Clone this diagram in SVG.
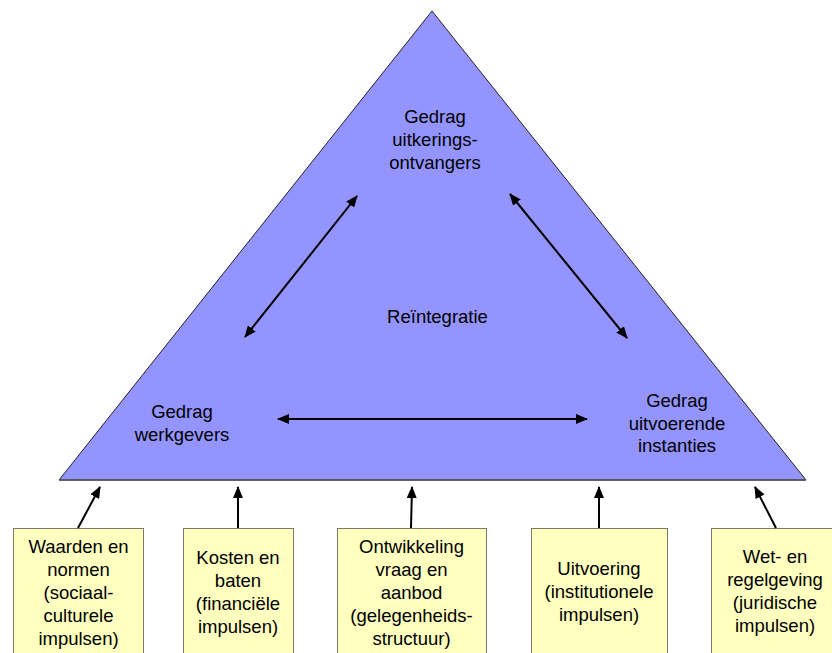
<svg xmlns="http://www.w3.org/2000/svg" width="832" height="653" viewBox="0 0 832 653">
  <style>
    .lbl { font-family: "Liberation Sans", Arial, sans-serif; font-size: 18.5px; fill: #000; text-anchor: middle; }
    .box { fill: #ffffc0; stroke: #7a7a6a; stroke-width: 1; }
    .link { stroke: #000; stroke-width: 2; fill: none; }
  </style>
  <defs>
    <marker id="head" viewBox="0 0 12 10" refX="11" refY="5" markerWidth="12" markerHeight="10" markerUnits="userSpaceOnUse" orient="auto-start-reverse">
      <path d="M0,0 L12,5 L0,10 Z" fill="#000"/>
    </marker>
  </defs>

  <rect width="832" height="653" fill="#fff"/>

  <!-- central triangle -->
  <g id="triangle">
    <polygon points="432,11 806,480 59,480" fill="#9494ff" stroke="#222" stroke-width="1"/>
    <line x1="59" y1="480" x2="806" y2="480" stroke="#555" stroke-width="1.5"/>
  </g>

  <g id="uitkeringsontvangers">
    <text class="lbl" x="435" y="123">Gedrag</text>
    <text class="lbl" x="435" y="146">uitkerings-</text>
    <text class="lbl" x="435" y="169">ontvangers</text>
  </g>
  <g id="reintegratie">
    <text class="lbl" x="437.5" y="323">Reïntegratie</text>
  </g>
  <g id="werkgevers">
    <text class="lbl" x="182" y="418">Gedrag</text>
    <text class="lbl" x="182" y="441">werkgevers</text>
  </g>
  <g id="instanties">
    <text class="lbl" x="677" y="407">Gedrag</text>
    <text class="lbl" x="677" y="430">uitvoerende</text>
    <text class="lbl" x="677" y="452">instanties</text>
  </g>

  <!-- impulse boxes -->
  <g id="waarden">
    <rect class="box" x="13.5" y="528.5" width="130" height="140"/>
    <text class="lbl" x="78.5" y="553">Waarden en</text>
    <text class="lbl" x="78.5" y="576">normen</text>
    <text class="lbl" x="78.5" y="599">(sociaal-</text>
    <text class="lbl" x="78.5" y="622">culturele</text>
    <text class="lbl" x="78.5" y="645">impulsen)</text>
  </g>
  <g id="kosten">
    <rect class="box" x="183.5" y="528.5" width="110" height="140"/>
    <text class="lbl" x="238" y="564">Kosten en</text>
    <text class="lbl" x="238" y="587">baten</text>
    <text class="lbl" x="238" y="610">(financiële</text>
    <text class="lbl" x="238" y="633">impulsen)</text>
  </g>
  <g id="ontwikkeling">
    <rect class="box" x="337.5" y="528.5" width="149" height="140"/>
    <text class="lbl" x="411.5" y="553">Ontwikkeling</text>
    <text class="lbl" x="411.5" y="576">vraag en</text>
    <text class="lbl" x="411.5" y="599">aanbod</text>
    <text class="lbl" x="411.5" y="622">(gelegenheids-</text>
    <text class="lbl" x="411.5" y="645">structuur)</text>
  </g>
  <g id="uitvoering">
    <rect class="box" x="531.5" y="528.5" width="136" height="140"/>
    <text class="lbl" x="599" y="575">Uitvoering</text>
    <text class="lbl" x="599" y="598">(institutionele</text>
    <text class="lbl" x="599" y="621">impulsen)</text>
  </g>
  <g id="wetgeving">
    <rect class="box" x="711.5" y="528.5" width="130" height="140"/>
    <text class="lbl" x="775" y="563">Wet- en</text>
    <text class="lbl" x="775" y="586">regelgeving</text>
    <text class="lbl" x="775" y="609">(juridische</text>
    <text class="lbl" x="775" y="632">impulsen)</text>
  </g>

  <!-- connectors -->
  <g id="connectors">
    <line class="link" x1="245" y1="337" x2="357" y2="196" marker-start="url(#head)" marker-end="url(#head)"/>
    <line class="link" x1="510" y1="194" x2="627" y2="338" marker-start="url(#head)" marker-end="url(#head)"/>
    <line class="link" x1="278" y1="419" x2="587" y2="419" marker-start="url(#head)" marker-end="url(#head)"/>
    <line class="link" x1="78" y1="528" x2="100" y2="487" marker-end="url(#head)"/>
    <line class="link" x1="238" y1="528" x2="238" y2="487" marker-end="url(#head)"/>
    <line class="link" x1="411" y1="528" x2="412" y2="487" marker-end="url(#head)"/>
    <line class="link" x1="599" y1="528" x2="599" y2="487" marker-end="url(#head)"/>
    <line class="link" x1="776" y1="528" x2="755" y2="487" marker-end="url(#head)"/>
  </g>
</svg>
